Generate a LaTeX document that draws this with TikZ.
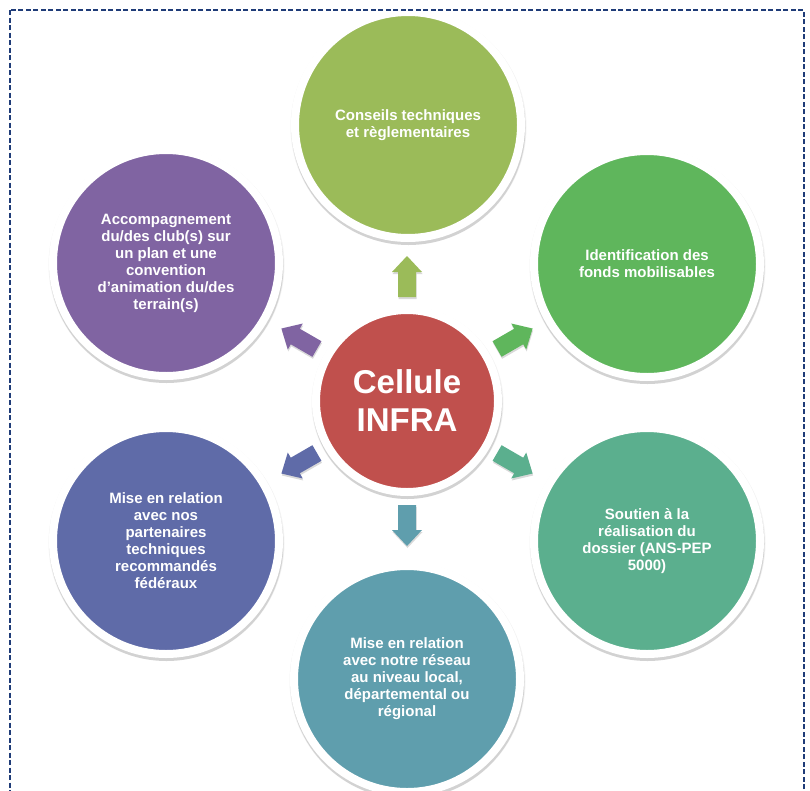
\documentclass[tikz,border=0pt]{standalone}
\usepackage{fontspec}
\setmainfont{Liberation Sans}
\definecolor{cTop}{HTML}{9BBB59}
\definecolor{cUR}{HTML}{5FB65C}
\definecolor{cLR}{HTML}{5BAF8E}
\definecolor{cBot}{HTML}{5F9EAD}
\definecolor{cLL}{HTML}{5F6BA8}
\definecolor{cUL}{HTML}{8064A2}
\definecolor{cCtr}{HTML}{C0504D}
\definecolor{navy}{HTML}{1F3C78}
\begin{document}
\begin{tikzpicture}[x=1pt,y=-1pt,
  shad/.style={preaction={draw=black, fill=black, line width=8pt, opacity=0.13, transform canvas={xshift=0.5pt, yshift=-3pt}},
               preaction={draw=black, fill=black, line width=10pt, opacity=0.05, transform canvas={xshift=0.5pt, yshift=-2pt}}},
  bubble/.style={circle, minimum size=226pt, inner sep=0pt, draw=white, line width=8pt, text=white,
    align=center, font=\bfseries\fontsize{15}{17}\selectfont, shad},
  hub/.style={circle, minimum size=182pt, inner sep=0pt, draw=white, line width=8pt, text=white,
    align=center, font=\bfseries\fontsize{33}{38}\selectfont, fill=cCtr, shad},
  blockarrow/.style={preaction={fill=black, opacity=0.15, transform canvas={xshift=0.5pt, yshift=-2pt}}}
]
\useasboundingbox (0,0) rectangle (810,790);
\clip (0,0) rectangle (810,790);
\fill[white] (0,0) rectangle (810,790);

\node[bubble, fill=cTop] (top) at (408,125) {Conseils techniques\\ et règlementaires};
\node[bubble, fill=cUR] (ur) at (647,264) {Identification des\\ fonds mobilisables};
\node[bubble, fill=cLR] (lr) at (647,541) {Soutien à la\\ réalisation du\\ dossier (ANS-PEP\\ 5000)};
\node[bubble, fill=cBot] (bot) at (407,679) {Mise en relation\\ avec notre réseau\\ au niveau local,\\ départemental ou\\ régional};
\node[bubble, fill=cLL] (ll) at (166,541) {Mise en relation\\ avec nos\\ partenaires\\ techniques\\ recommandés\\ fédéraux};
\node[bubble, fill=cUL] (ul) at (166,263) {Accompagnement\\ du/des club(s) sur\\ un plan et une\\ convention\\ d’animation du/des\\ terrain(s)};

\foreach \ang/\col in {90/cTop, 30/cUR, -30/cLR, -90/cBot, -150/cLL, 150/cUL}{
  \fill[\col, blockarrow, shift={(407,401)}, rotate=\ang]
    (104,-9) -- (129,-9) -- (129,-15) -- (145,0) -- (129,15) -- (129,9) -- (104,9) -- cycle;
}

\node[hub] (ctr) at (407,401) {Cellule\\ INFRA};

\draw[navy, line width=1.3pt, dash pattern=on 5pt off 2.5pt] (10,10) rectangle (804,805);
\end{tikzpicture}
\end{document}
